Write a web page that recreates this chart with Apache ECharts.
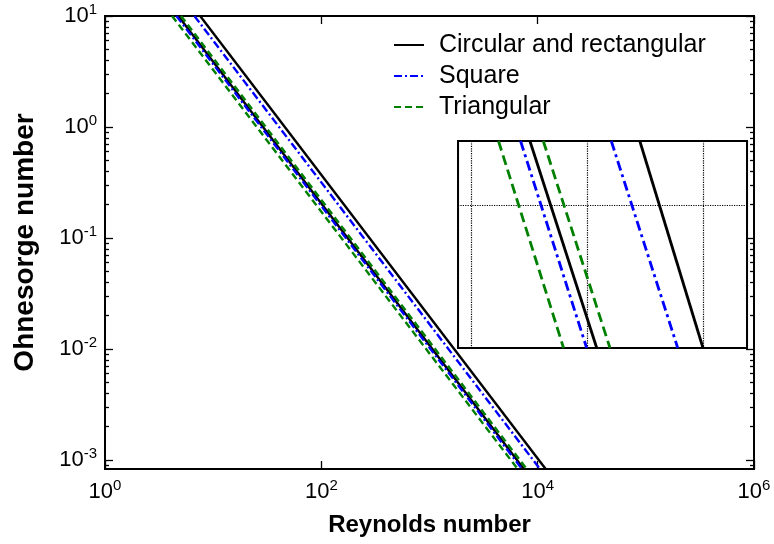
<!DOCTYPE html>
<html><head><meta charset="utf-8">
<script src="https://cdn.jsdelivr.net/npm/echarts@6/dist/echarts.min.js"></script>
<style>html,body{margin:0;padding:0;background:#fff}#c{width:774px;height:544px}</style>
</head><body><div id="c"></div>
<script>
// ---- data ----
const seriesNames = ['Circular and rectangular', 'Square', 'Triangular'];
// Ohnesorge values at which Reynolds numbers were read (top and bottom of plot)
const ohRead = [10, 0.00083];
const reCircularInner = [4.76, 7450];
const reCircularOuter = [7.58, 11860];
const reSquareInner = [4.58, 7160];
const reSquareOuter = [6.71, 10500];
const reTriangularInner = [4.17, 6530];
const reTriangularOuter = [5.05, 7910];
// inset (zoomed view, arbitrary linear units)
const insetYRead = [1.45, 0];
const insetCircularInner = [1.508, 2.084];
const insetCircularOuter = [2.455, 3.0];
const insetSquareInner = [1.427, 1.997];
const insetSquareOuter = [2.209, 2.782];
const insetTriangularInner = [1.237, 1.798];
const insetTriangularOuter = [1.623, 2.198];
// ticks
const reTickValues = [1, 100, 10000, 1000000];
const ohTickValues = [0.001, 0.01, 0.1, 1, 10];
const ohMinorTickValues = [];
[0.0001, 0.001, 0.01, 0.1, 1].forEach(function (d) {
  for (let k = 2; k <= 9; k++) { const v = d * k; if (v >= 0.00083 && v <= 10) ohMinorTickValues.push(v); }
});

const FF = '"Liberation Sans", Arial, sans-serif';
function pairs(xs, ys) { return xs.map(function (x, i) { return [x, ys[i]]; }); }
function supFmt(v) {
  const e = Math.round(Math.log10(v));
  return '{b|10}{s|' + (e < 0 ? '-' + (-e) : e) + '}';
}
const rich = {
  b: { fontSize: 22, fontFamily: FF, color: '#000', lineHeight: 28 },
  s: { fontSize: 15, fontFamily: FF, color: '#000', verticalAlign: 'top', lineHeight: 15 }
};
const styles = {
  'Circular and rectangular': { color: '#000000', type: 'solid' },
  'Square': { color: '#0000ff', type: [8, 3, 2, 3] },
  'Triangular': { color: '#008000', type: [7, 4] }
};
const insetStyles = {
  'Circular and rectangular': { color: '#000000', type: 'solid' },
  'Square': { color: '#0000ff', type: [10, 4, 3, 4] },
  'Triangular': { color: '#008000', type: [10, 5] }
};
function mainSeries(name, reArr) {
  return {
    type: 'line', name: name, xAxisIndex: 0, yAxisIndex: 0, data: pairs(reArr, ohRead),
    symbol: 'none', lineStyle: { color: styles[name].color, type: styles[name].type, width: 2.4 },
    itemStyle: { color: styles[name].color }, z: 3
  };
}
function insetSeries(name, xArr) {
  return {
    type: 'line', name: name, xAxisIndex: 2, yAxisIndex: 4, data: pairs(xArr, insetYRead),
    symbol: 'none', lineStyle: { color: insetStyles[name].color, type: insetStyles[name].type, width: 2.8 },
    itemStyle: { color: insetStyles[name].color }, z: 5
  };
}
const yMin = 0.00083, yMax = 10;
function logY(pos, tickVals, len, withLabels) {
  return {
    type: 'log', gridIndex: 0, position: pos, min: yMin, max: yMax,
    axisLine: { show: false },
    axisTick: { show: true, inside: true, length: len, customValues: tickVals, lineStyle: { color: '#000', width: 1.3 } },
    axisLabel: withLabels ? { show: true, customValues: ohTickValues, formatter: supFmt, rich: rich, margin: 8 } : { show: false },
    splitLine: { show: false }
  };
}
const chart = echarts.init(document.getElementById('c'), null, { renderer: 'canvas' });
const yAxes = [logY('left', ohTickValues, 8, true), logY('left', ohMinorTickValues, 4, false),
  logY('right', ohTickValues, 8, false), logY('right', ohMinorTickValues, 4, false)];
yAxes[0].name = 'Ohnesorge number';
yAxes[0].nameLocation = 'middle';
yAxes[0].nameGap = 66;
yAxes[0].nameTextStyle = { fontSize: 28, fontWeight: 'bold', color: '#000', fontFamily: FF };
yAxes.push({
  type: 'value', gridIndex: 1, min: 0, max: 1.45, interval: 1, z: 4,
  axisLine: { show: false }, axisTick: { show: false }, axisLabel: { show: false },
  splitLine: { show: true, lineStyle: { type: 'dotted', color: '#000', width: 1.2 } }
});
chart.setOption({
  animation: false,
  backgroundColor: '#fff',
  textStyle: { fontFamily: FF },
  grid: [
    { left: 105, top: 16, right: 20, bottom: 75, outerBoundsMode: 'none', containLabel: false, show: true, borderColor: '#000', borderWidth: 2, backgroundColor: 'transparent' },
    { left: 458, top: 141, width: 289, height: 207, outerBoundsMode: 'none', containLabel: false, show: true, borderColor: '#000', borderWidth: 2, backgroundColor: '#fff' }
  ],
  legend: {
    data: seriesNames, orient: 'vertical', left: 388, top: 26, itemWidth: 30, itemHeight: 14, itemGap: 3,
    itemStyle: { opacity: 0 },
    textStyle: { fontSize: 25, color: '#000', fontFamily: FF, padding: [0, 0, 0, 10], lineHeight: 28 },
    backgroundColor: 'rgba(255,255,255,0)'
  },
  xAxis: [
    {
      type: 'log', gridIndex: 0, position: 'bottom', min: 1, max: 1000000,
      axisLine: { show: false },
      axisTick: { show: true, inside: true, length: 8, customValues: reTickValues, lineStyle: { color: '#000', width: 1.3 } },
      axisLabel: { customValues: reTickValues, formatter: supFmt, rich: rich, margin: 9 },
      splitLine: { show: false },
      name: 'Reynolds number', nameLocation: 'middle', nameGap: 44,
      nameTextStyle: { fontSize: 24, fontWeight: 'bold', color: '#000', fontFamily: FF }
    },
    {
      type: 'log', gridIndex: 0, position: 'top', min: 1, max: 1000000,
      axisLine: { show: false },
      axisTick: { show: true, inside: true, length: 8, customValues: reTickValues, lineStyle: { color: '#000', width: 1.3 } },
      axisLabel: { show: false }, splitLine: { show: false }
    },
    {
      type: 'value', gridIndex: 1, min: 0.888, max: 3.379, splitNumber: 2, z: 4,
      axisLine: { show: false }, axisTick: { show: false }, axisLabel: { show: false },
      splitLine: { show: true, lineStyle: { type: 'dotted', color: '#000', width: 1.2 } }
    }
  ],
  yAxis: yAxes,
  series: [
    mainSeries('Circular and rectangular', reCircularInner),
    mainSeries('Circular and rectangular', reCircularOuter),
    mainSeries('Square', reSquareInner),
    mainSeries('Square', reSquareOuter),
    mainSeries('Triangular', reTriangularInner),
    mainSeries('Triangular', reTriangularOuter),
    insetSeries('Circular and rectangular', insetCircularInner),
    insetSeries('Circular and rectangular', insetCircularOuter),
    insetSeries('Square', insetSquareInner),
    insetSeries('Square', insetSquareOuter),
    insetSeries('Triangular', insetTriangularInner),
    insetSeries('Triangular', insetTriangularOuter)
  ]
});
</script></body></html>
